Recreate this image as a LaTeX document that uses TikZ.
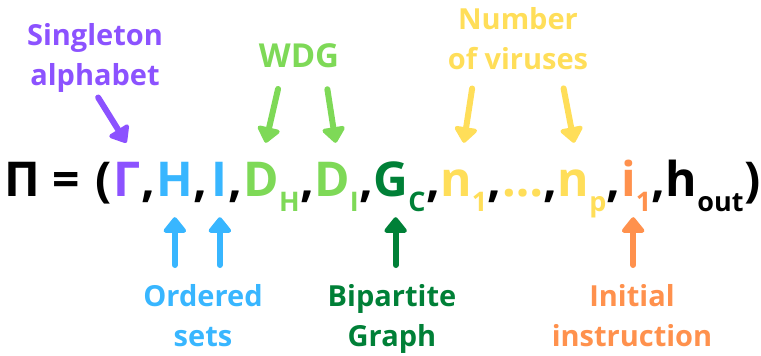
\documentclass[tikz,border=0pt]{standalone}
\usepackage{fontspec}
\setmainfont{Open Sans}
\usepackage{xcolor}
\usetikzlibrary{arrows.meta}

\definecolor{cpurple}{HTML}{8C52FF}
\definecolor{cblue}{HTML}{38B6FF}
\definecolor{clime}{HTML}{7ED957}
\definecolor{cgreen}{HTML}{008037}
\definecolor{cyellow}{HTML}{FFDE59}
\definecolor{corange}{HTML}{FF914D}

% smaller, lowered index
\newcommand\lowsub[1]{\raisebox{-15pt}{\fontsize{27}{27}\selectfont #1}}

\tikzset{
  tok/.style={anchor=base west, inner sep=0pt, text height=53pt, text depth=21pt,
    font=\fontsize{48}{48}\selectfont\bfseries},
  lab/.style={inner sep=0pt, align=center, font=\fontsize{29}{40}\selectfont\bfseries},
  arr/.style={line width=6pt, line cap=round, -{Triangle[length=17pt,width=26pt,round]}}
}

\begin{document}
\begin{tikzpicture}[x=1pt, y=-1pt]
\useasboundingbox (0,0) rectangle (761,356);
% the tuple, one piece after the other
\node[tok] (pi) at (4,196) {Π};
\node[tok] (eq) at ([xshift=12pt]pi.base east) {=};
\node[tok] (lpar) at ([xshift=15pt]eq.base east) {(};
\node[tok,text=cpurple] (gam) at ([xshift=2pt]lpar.base east) {Γ};
\node[tok] (comma1) at (gam.base east) {,};
\node[tok,text=cblue] (h) at ([xshift=1pt]comma1.base east) {H};
\node[tok] (comma2) at (h.base east) {,};
\node[tok,text=cblue] (i) at ([xshift=4pt]comma2.base east) {I};
\node[tok] (comma3) at (i.base east) {,};
\node[tok,text=clime] (dh) at ([xshift=1pt]comma3.base east) {D\lowsub{H}};
\node[tok] (comma4) at (dh.base east) {,};
\node[tok,text=clime] (di) at (comma4.base east) {D\lowsub{I}};
\node[tok] (comma5) at (di.base east) {,};
\node[tok,text=cgreen] (gc) at (comma5.base east) {G\lowsub{C}};
\node[tok] (comma6) at (gc.base east) {,};
\node[tok,text=cyellow] (n1) at (comma6.base east) {n\lowsub{1}};
\node[tok] (comma7) at (n1.base east) {,};
\node[tok,text=cyellow] (dots) at (comma7.base east) {…};
\node[tok] (comma8) at (dots.base east) {,};
\node[tok,text=cyellow] (np) at (comma8.base east) {n\lowsub{p}};
\node[tok] (comma9) at (np.base east) {,};
\node[tok,text=corange] (i1) at (comma9.base east) {i\lowsub{1}};
\node[tok] (comma10) at (i1.base east) {,};
\node[tok] (hout) at (comma10.base east) {h\lowsub{out}};
\node[tok] (rpar) at (hout.base east) {)};

% labels
\node[lab,anchor=north,text=cpurple] (sing) at (95,23) {Singleton\\alphabet};
\node[lab,anchor=base,text=clime,font=\fontsize{33}{40}\selectfont\bfseries] (wdg) at (299,67) {WDG};
\node[lab,anchor=north,text=cyellow] (vir) at (518,7) {Number\\of viruses};
\node[lab,anchor=north,text=cblue] (ord) at (203,284) {Ordered\\sets};
\node[lab,anchor=north,text=cgreen] (bip) at (392,284) {Bipartite\\Graph};
\node[lab,anchor=north,text=corange] (ini) at (632,284) {Initial\\instruction};

% arrows
\draw[arr,cpurple,shorten <=6pt] (sing.south) -- ([xshift=-1pt]gam.north);
\draw[arr,clime,shorten <=22pt] ([xshift=-16pt]wdg.south) -- ([xshift=-6pt]dh.north);
\draw[arr,clime,shorten <=22pt] ([xshift=25pt]wdg.south) -- ([xshift=-1pt]di.north);
\draw[arr,cyellow,shorten <=19pt] ([xshift=-43pt]vir.south) -- (n1.north);
\draw[arr,cyellow,shorten <=19pt] ([xshift=42pt]vir.south) -- ([xshift=-8pt]np.north);
\draw[arr,cblue,shorten <=19pt] (ord.north -| h.south) -- (h.south);
\draw[arr,cblue,shorten <=19pt] (ord.north -| i.south) -- (i.south);
\draw[arr,cgreen,shorten <=19pt] ([xshift=-4pt]bip.north -| gc.south) -- ([xshift=-4pt]gc.south);
\draw[arr,corange,shorten <=19pt] ([xshift=-3pt]ini.north -| i1.south) -- ([xshift=-3pt]i1.south);
\end{tikzpicture}
\end{document}
